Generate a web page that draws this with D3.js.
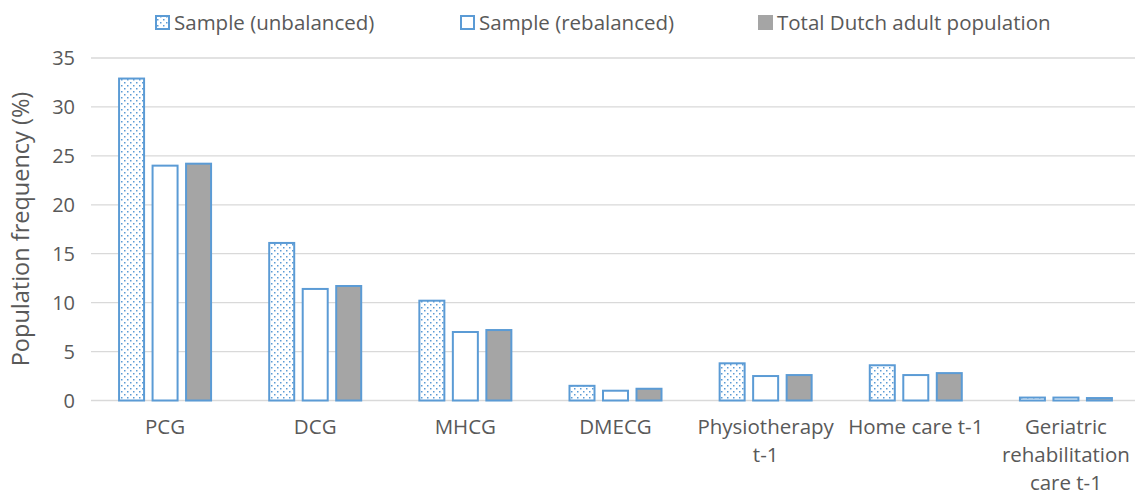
<!DOCTYPE html>
<html><head><meta charset="utf-8">
<script src="https://cdn.jsdelivr.net/npm/d3@7"></script>
<style>body{margin:0;background:#fff;} text{font-family:"Open Sans",Lato,sans-serif;fill:#595959;}</style>
</head><body><svg id="c" width="1137" height="495"></svg>
<script>
const categories = [["PCG"],["DCG"],["MHCG"],["DMECG"],["Physiotherapy","t-1"],["Home care t-1"],["Geriatric","rehabilitation","care t-1"]];
const seriesNames = ["Sample (unbalanced)","Sample (rebalanced)","Total Dutch adult population"];
const unbalanced = [32.9,16.1,10.2,1.5,3.8,3.6,0.3];
const rebalanced = [24.0,11.4,7.0,1.0,2.5,2.6,0.3];
const totalPop   = [24.2,11.7,7.2,1.2,2.6,2.8,0.25];
const yTicks = [0,5,10,15,20,25,30,35];

(function(){
const svg = d3.select("#c");
const defs = svg.append("defs");
const pat = defs.append("pattern").attr("id","dots").attr("patternUnits","userSpaceOnUse").attr("width",6).attr("height",6);
pat.append("rect").attr("width",6).attr("height",6).attr("fill","#fff");
pat.append("rect").attr("x",1).attr("y",1).attr("width",1.5).attr("height",1.5).attr("fill","#5B9BD5");
pat.append("rect").attr("x",4).attr("y",4).attr("width",1.5).attr("height",1.5).attr("fill","#5B9BD5");

const pL=90, pR=1141, gridL=91, gridR=1135, pT=58, pB=400.5;
const x = d3.scaleBand().domain(d3.range(categories.length)).range([pL,pR]).paddingInner(0).paddingOuter(0);
const y = d3.scaleLinear().domain([0,35]).range([pB,pT]);
const fills = ["url(#dots)","#fff","#A5A5A5"];
const data = [unbalanced, rebalanced, totalPop];

svg.append("g").selectAll("line").data(yTicks).join("line")
  .attr("x1",gridL).attr("x2",gridR).attr("y1",d=>y(d)).attr("y2",d=>y(d))
  .attr("stroke","#D9D9D9").attr("stroke-width",1.3);

svg.append("g").selectAll("text").data(yTicks).join("text")
  .attr("x",75).attr("y",d=>y(d)).attr("dy","0.35em").attr("text-anchor","end")
  .style("font-size","20px").text(d=>d);

const groupW = 94;
const bw = 27, step = 33.5;
data.forEach((vals,si)=>{
  svg.append("g").selectAll("rect").data(vals).join("rect")
    .attr("x",(d,i)=> x(i)+x.bandwidth()/2 - groupW/2 + si*step + 1)
    .attr("width",bw-2)
    .attr("y",d=>y(d))
    .attr("height",d=>pB-y(d))
    .attr("fill",fills[si]).attr("stroke","#5B9BD5").attr("stroke-width",2);
});

const cl = svg.append("g");
categories.forEach((lines,i)=>{
  const cx = x(i)+x.bandwidth()/2;
  const t = cl.append("text").attr("x",cx).attr("y",434).attr("text-anchor","middle").style("font-size","20.5px");
  lines.forEach((ln,j)=> t.append("tspan").attr("x",cx).attr("dy", j===0?0:"28px").text(ln));
});

svg.append("text").attr("transform","translate(29,229) rotate(-90)").attr("text-anchor","middle")
  .style("font-size","23.5px").text("Population frequency (%)");

const legX = [155,460,758];
seriesNames.forEach((n,i)=>{
  svg.append("rect").attr("x",legX[i]+1).attr("y",16).attr("width",13).attr("height",13)
    .attr("fill",fills[i]).attr("stroke", i===2?"#A5A5A5":"#5B9BD5").attr("stroke-width",2);
  svg.append("text").attr("x",legX[i]+19).attr("y",22.5).attr("dy","0.35em").style("font-size","20.5px").text(n);
});
})();
</script></body></html>
